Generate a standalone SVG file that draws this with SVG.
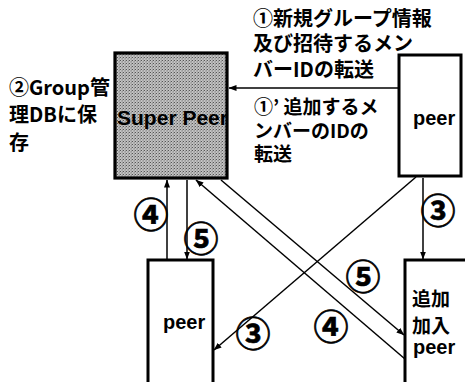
<svg xmlns="http://www.w3.org/2000/svg" width="465" height="382" viewBox="0 0 465 382">
<style>
.jp{font-family:"Noto Sans CJK JP","Liberation Sans",sans-serif;font-weight:700;fill:#000}
.en{font-family:"Liberation Sans",Arial,sans-serif;font-weight:700;fill:#000}
.box{fill:#fff;stroke:#000;stroke-width:3}
.ln{fill:none;stroke:#000;stroke-width:1.5}
.num{font-family:"Noto Sans CJK JP",sans-serif;font-weight:700;font-size:35px;text-anchor:middle;fill:#000;stroke:#000;stroke-width:0.7}
</style>
<defs>
<pattern id="dots" width="3" height="3" patternUnits="userSpaceOnUse">
<rect width="3" height="3" fill="#c4c4c4"/>
<rect x="0" y="0" width="1" height="1" fill="#555"/>
<rect x="1.5" y="1.5" width="1" height="1" fill="#666"/>
<rect x="2" y="0.5" width="1" height="1" fill="#888"/>
</pattern>
<marker id="ah" markerWidth="8" markerHeight="6" refX="7.5" refY="3" orient="auto" markerUnits="userSpaceOnUse">
<path d="M0,0 L8,3 L0,6 Z" fill="#000"/>
</marker>
</defs>
<rect width="465" height="382" fill="#fff"/>

<g id="connectors">
<line class="ln" x1="398" y1="88" x2="229" y2="88" marker-end="url(#ah)"/>
<line class="ln" x1="167" y1="259" x2="167" y2="180" marker-end="url(#ah)"/>
<line class="ln" x1="187" y1="180" x2="187" y2="259" marker-end="url(#ah)"/>
<line class="ln" x1="423" y1="178" x2="423" y2="259" marker-end="url(#ah)"/>
<line class="ln" x1="416" y1="177" x2="214" y2="350" marker-end="url(#ah)"/>
<line class="ln" x1="221" y1="180" x2="404" y2="335" marker-end="url(#ah)"/>
<line class="ln" x1="405" y1="359" x2="196" y2="180" marker-end="url(#ah)"/>
</g>

<g id="super-peer">
<rect x="115" y="53" width="112" height="125" fill="url(#dots)"/>
<text class="en" x="117" y="125" font-size="20" textLength="111" lengthAdjust="spacingAndGlyphs">Super Peer</text>
<rect x="115" y="53" width="112" height="125" fill="none" stroke="#000" stroke-width="3.2"/>
</g>

<g id="peer-top">
<rect class="box" x="399" y="55" width="62" height="121"/>
<text class="en" x="413" y="125" font-size="20">peer</text>
</g>

<g id="peer-bottom">
<rect class="box" x="148" y="260" width="65" height="130"/>
<text class="en" x="163" y="329" font-size="20">peer</text>
</g>

<g id="new-peer">
<rect class="box" x="405" y="260" width="70" height="130"/>
<text class="jp" x="412" y="306" font-size="19">追加</text>
<text class="jp" x="412" y="333" font-size="19">加入</text>
<text class="en" x="413" y="354" font-size="20">peer</text>
</g>

<g id="labels">
<text class="jp" x="253" y="26" font-size="20">①新規グループ情報</text>
<text class="jp" x="253" y="51" font-size="20">及び招待するメン</text>
<text class="jp" x="253" y="77" font-size="20">バーIDの転送</text>
<text class="jp" x="254" y="114" font-size="19">①’ 追加するメ</text>
<text class="jp" x="254" y="138" font-size="19">ンバーのIDの</text>
<text class="jp" x="254" y="161" font-size="19">転送</text>
<text class="jp" x="9" y="95" font-size="20">②Group管</text>
<text class="jp" x="9" y="122" font-size="20">理DBに保</text>
<text class="jp" x="9" y="150" font-size="20">存</text>
<text class="num" x="151" y="228">④</text>
<text class="num" x="201" y="252">⑤</text>
<text class="num" x="438" y="224">③</text>
<text class="num" x="363" y="290">⑤</text>
<text class="num" x="331" y="340">④</text>
<text class="num" x="253" y="347">③</text>
</g>
</svg>
